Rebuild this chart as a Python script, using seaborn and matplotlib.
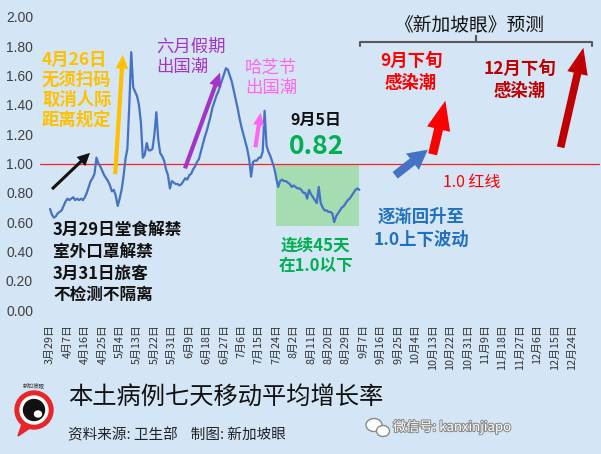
import numpy as np
import pandas as pd
import matplotlib
matplotlib.use("Agg")
import matplotlib.pyplot as plt
import matplotlib.patches as mpatches
import matplotlib.patheffects as pe
import matplotlib.dates as mdates
import seaborn as sns

# ---------------- data ----------------
start_date = "2022-03-29"
growth_rate = [
    0.69, 0.65, 0.63, 0.64, 0.66, 0.67, 0.68, 0.71, 0.74, 0.76,
    0.75, 0.76, 0.77, 0.75, 0.76, 0.75, 0.76, 0.75, 0.77, 0.80,
    0.84, 0.88, 0.90, 0.93, 1.04, 1.00, 0.98, 0.95, 0.92, 0.90,
    0.88, 0.85, 0.81, 0.82, 0.78, 0.71, 0.76, 0.82, 0.91, 1.03,
    1.10, 1.40, 1.76, 1.52, 1.49, 1.46, 1.40, 1.28, 1.04, 1.06,
    1.14, 1.09, 1.09, 1.10, 1.20, 1.35, 1.16, 1.07, 1.05, 1.02,
    0.96, 0.92, 0.83, 0.88, 0.87, 0.86, 0.86, 0.85, 0.86, 0.88,
    0.90, 0.89, 0.92, 0.93, 0.96, 0.98, 1.01, 1.03, 1.08, 1.13,
    1.18, 1.22, 1.27, 1.32, 1.38, 1.42, 1.46, 1.49, 1.53, 1.57,
    1.61, 1.65, 1.64, 1.60, 1.56, 1.50, 1.44, 1.38, 1.31, 1.25,
    1.20, 1.15, 1.10, 1.03, 0.91, 1.01, 1.02, 1.02, 1.04, 1.04,
    1.08, 1.36, 1.12, 1.08, 1.05, 1.01, 0.97, 0.90, 0.84, 0.88,
    0.89, 0.88, 0.88, 0.87, 0.86, 0.84, 0.85, 0.84, 0.83, 0.83,
    0.82, 0.80, 0.80, 0.76, 0.82, 0.79, 0.77, 0.75, 0.73, 0.84,
    0.73, 0.70, 0.68, 0.68, 0.67, 0.67, 0.66, 0.60, 0.64, 0.66,
    0.68, 0.70, 0.71, 0.73, 0.75, 0.76, 0.78, 0.80, 0.82, 0.83,
    0.82,
]
tick_labels = [
    "3月29日", "4月7日", "4月16日", "4月25日", "5月4日", "5月13日", "5月22日",
    "5月31日", "6月9日", "6月18日", "6月27日", "7月6日", "7月15日", "7月24日",
    "8月2日", "8月11日", "8月20日", "8月29日", "9月7日", "9月16日", "9月25日",
    "10月4日", "10月13日", "10月22日", "10月31日", "11月9日", "11月18日",
    "11月27日", "12月6日", "12月15日", "12月24日",
]
y_ticks = [0.0, 0.2, 0.4, 0.6, 0.8, 1.0, 1.2, 1.4, 1.6, 1.8, 2.0]
threshold = 1.0
below_start_day, below_end_day = 117, 160
below_box_low = 0.57

dates = pd.date_range(start_date, periods=len(growth_rate), freq="D")
df = pd.DataFrame({"date": dates, "rate": growth_rate})
tick_dates = pd.date_range(start_date, periods=len(tick_labels), freq="9D")

# ---------------- style ----------------
sns.set_style("white")
plt.rcParams["font.family"] = ["Noto Sans CJK SC", "DejaVu Sans"]

BG = "#D4E5F5"
W, H = 601, 454
fig = plt.figure(figsize=(W / 100, H / 100), dpi=100, facecolor=BG)

def fp(x, y):
    return (x / W, 1 - y / H)

ax_l, ax_r, ax_t, ax_b = 40, 600, 17, 310
ax = fig.add_axes([ax_l / W, 1 - ax_b / H, (ax_r - ax_l) / W, (ax_b - ax_t) / H])
ax.set_facecolor(BG)

t0 = pd.Timestamp(start_date)
ax.set_xlim(t0 - pd.Timedelta(days=5.2), t0 + pd.Timedelta(days=284.5))
ax.set_ylim(0, 2.0)

# green box
x0 = mdates.date2num(t0 + pd.Timedelta(days=below_start_day))
x1 = mdates.date2num(t0 + pd.Timedelta(days=below_end_day))
ax.add_patch(mpatches.Rectangle((x0, below_box_low), x1 - x0, threshold - below_box_low,
                                facecolor="#A6DCB2", edgecolor="none", zorder=1))

ax.axhline(threshold, color="#FF2020", lw=0.9, zorder=2)
sns.lineplot(data=df, x="date", y="rate", ax=ax, color="#4472C4", lw=1.6, zorder=3)

ax.set_xlabel("")
ax.set_ylabel("")
ax.set_xticks(tick_dates)
ax.set_xticklabels(tick_labels, rotation=90, fontsize=7.8, color="#333333")
ax.set_yticks(y_ticks)
ax.set_yticklabels([f"{v:.2f}" for v in y_ticks], fontsize=10, color="#404040",
                   family=["Liberation Sans", "DejaVu Sans"])
ax.tick_params(axis="both", length=0)
ax.tick_params(axis="y", pad=5)
ax.tick_params(axis="x", pad=10)
for s in ax.spines.values():
    s.set_visible(False)
ax.grid(False)

# ---------------- annotations ----------------
def arrow(p0, p1, color, tail, head_w, head_l):
    a = mpatches.FancyArrowPatch(
        fp(*p0), fp(*p1), transform=fig.transFigure,
        arrowstyle=f"simple,tail_width={tail},head_width={head_w},head_length={head_l}",
        mutation_scale=1, color=color, lw=0, zorder=10)
    fig.patches.append(a)

arrow((50, 191), (92, 151), "#111111", 2.2, 9, 9)
arrow((115, 177), (123, 52), "#FFC000", 3, 9, 10)
arrow((184, 171), (221, 70), "#A434C8", 3, 9, 10)
arrow((255, 150), (261, 110), "#FF66F0", 3, 8, 9)
arrow((393, 177), (430, 148), "#4472C4", 6, 15, 14)
arrow((432, 157), (446, 98), "#FF0000", 6.5, 17, 21)
arrow((560, 150), (584, 45), "#C00000", 5.5, 15, 19)

def txt(x, y, s, color, size, weight="bold", ha="left", ls=1.15, **kw):
    return fig.text(*fp(x, y), s, color=color, fontsize=size, fontweight=weight,
                    ha=ha, va="center", linespacing=ls, **kw)

txt(42, 90, "4月26日\n无须扫码\n取消人际\n距离规定", "#FFC000", 12.5, ls=1.14)
txt(156, 57, "六月假期\n出国潮", "#A434C8", 12.5, weight="medium", ls=1.15)
txt(245, 78, "哈芝节\n出国潮", "#FF66F0", 12.5, weight="medium", ls=1.15)
txt(53, 263, "3月29日堂食解禁\n室外口罩解禁\n3月31日旅客\n不检测不隔离", "#111111", 12, ls=1.24)
txt(290, 120, "9月5日", "#111111", 11.5)
txt(289, 147, "0.82", "#00B050", 19)
txt(316, 256, "连续45天\n在1.0以下", "#00B050", 12, ha="center", ls=1.2)
txt(421, 228, "逐渐回升至\n1.0上下波动", "#2171C0", 12.5, ha="center", ls=1.35)
txt(472, 182, "1.0 红线", "#FF0000", 11.5, weight="normal", ha="center")
txt(411, 72, "9月下旬\n感染潮", "#FF0000", 12.5, ha="center", ls=1.35)
txt(520, 80, "12月下旬\n感染潮", "#C00000", 12.5, ha="center", ls=1.3)
txt(469, 25, "《新加坡眼》预测", "#111111", 13.5, weight="normal", ha="center")

# bracket
bx = [360, 360, 476, 476, 476, 592, 592]
by = [46, 42, 42, 36, 42, 42, 46]
fig.lines.append(plt.Line2D([x / W for x in bx], [1 - y / H for y in by],
                            transform=fig.transFigure, color="#595959", lw=1.5))

# bottom title
txt(68, 398, "本土病例七天移动平均增长率", "#111111", 17.5, weight="normal")
txt(68, 435, "资料来源: 卫生部    制图: 新加坡眼", "#222222", 10.5, weight="normal")
t = fig.text(*fp(393, 427), "微信号: kanxinjiapo", color="white", fontsize=9.5,
             ha="left", va="center")
t.set_path_effects([pe.withStroke(linewidth=1.5, foreground="#8a8a8a")])
# wechat icon
for (cx, cy), (w, h) in [((374, 425), (16, 13)), ((383, 431), (13, 11))]:
    e = mpatches.Ellipse(fp(cx, cy), w / W, h / H, transform=fig.transFigure,
                         facecolor="white", edgecolor="#8a8a8a", lw=1, zorder=5)
    fig.patches.append(e)

# logo
logo = [((34, 410), 19, "#E8262A"), ((34, 410), 14, "white"), ((34, 410), 10.5, "#111111")]
for (cx, cy), r, c in logo:
    fig.patches.append(mpatches.Ellipse(fp(cx, cy), 2 * r / W, 2 * r / H,
                                        transform=fig.transFigure, color=c, zorder=5))
fig.patches.append(mpatches.Polygon([fp(22, 424), fp(30, 428), fp(18, 436)],
                                    closed=True, transform=fig.transFigure,
                                    color="#E8262A", zorder=4))
fig.patches.append(mpatches.Ellipse(fp(38, 414), 7 / W, 6 / H, transform=fig.transFigure,
                                    color="white", zorder=6))
fig.text(*fp(34, 386), "新加坡眼", fontsize=4, color="#333333", ha="center", va="center")

fig.savefig("out.png", dpi=100, facecolor=BG)
